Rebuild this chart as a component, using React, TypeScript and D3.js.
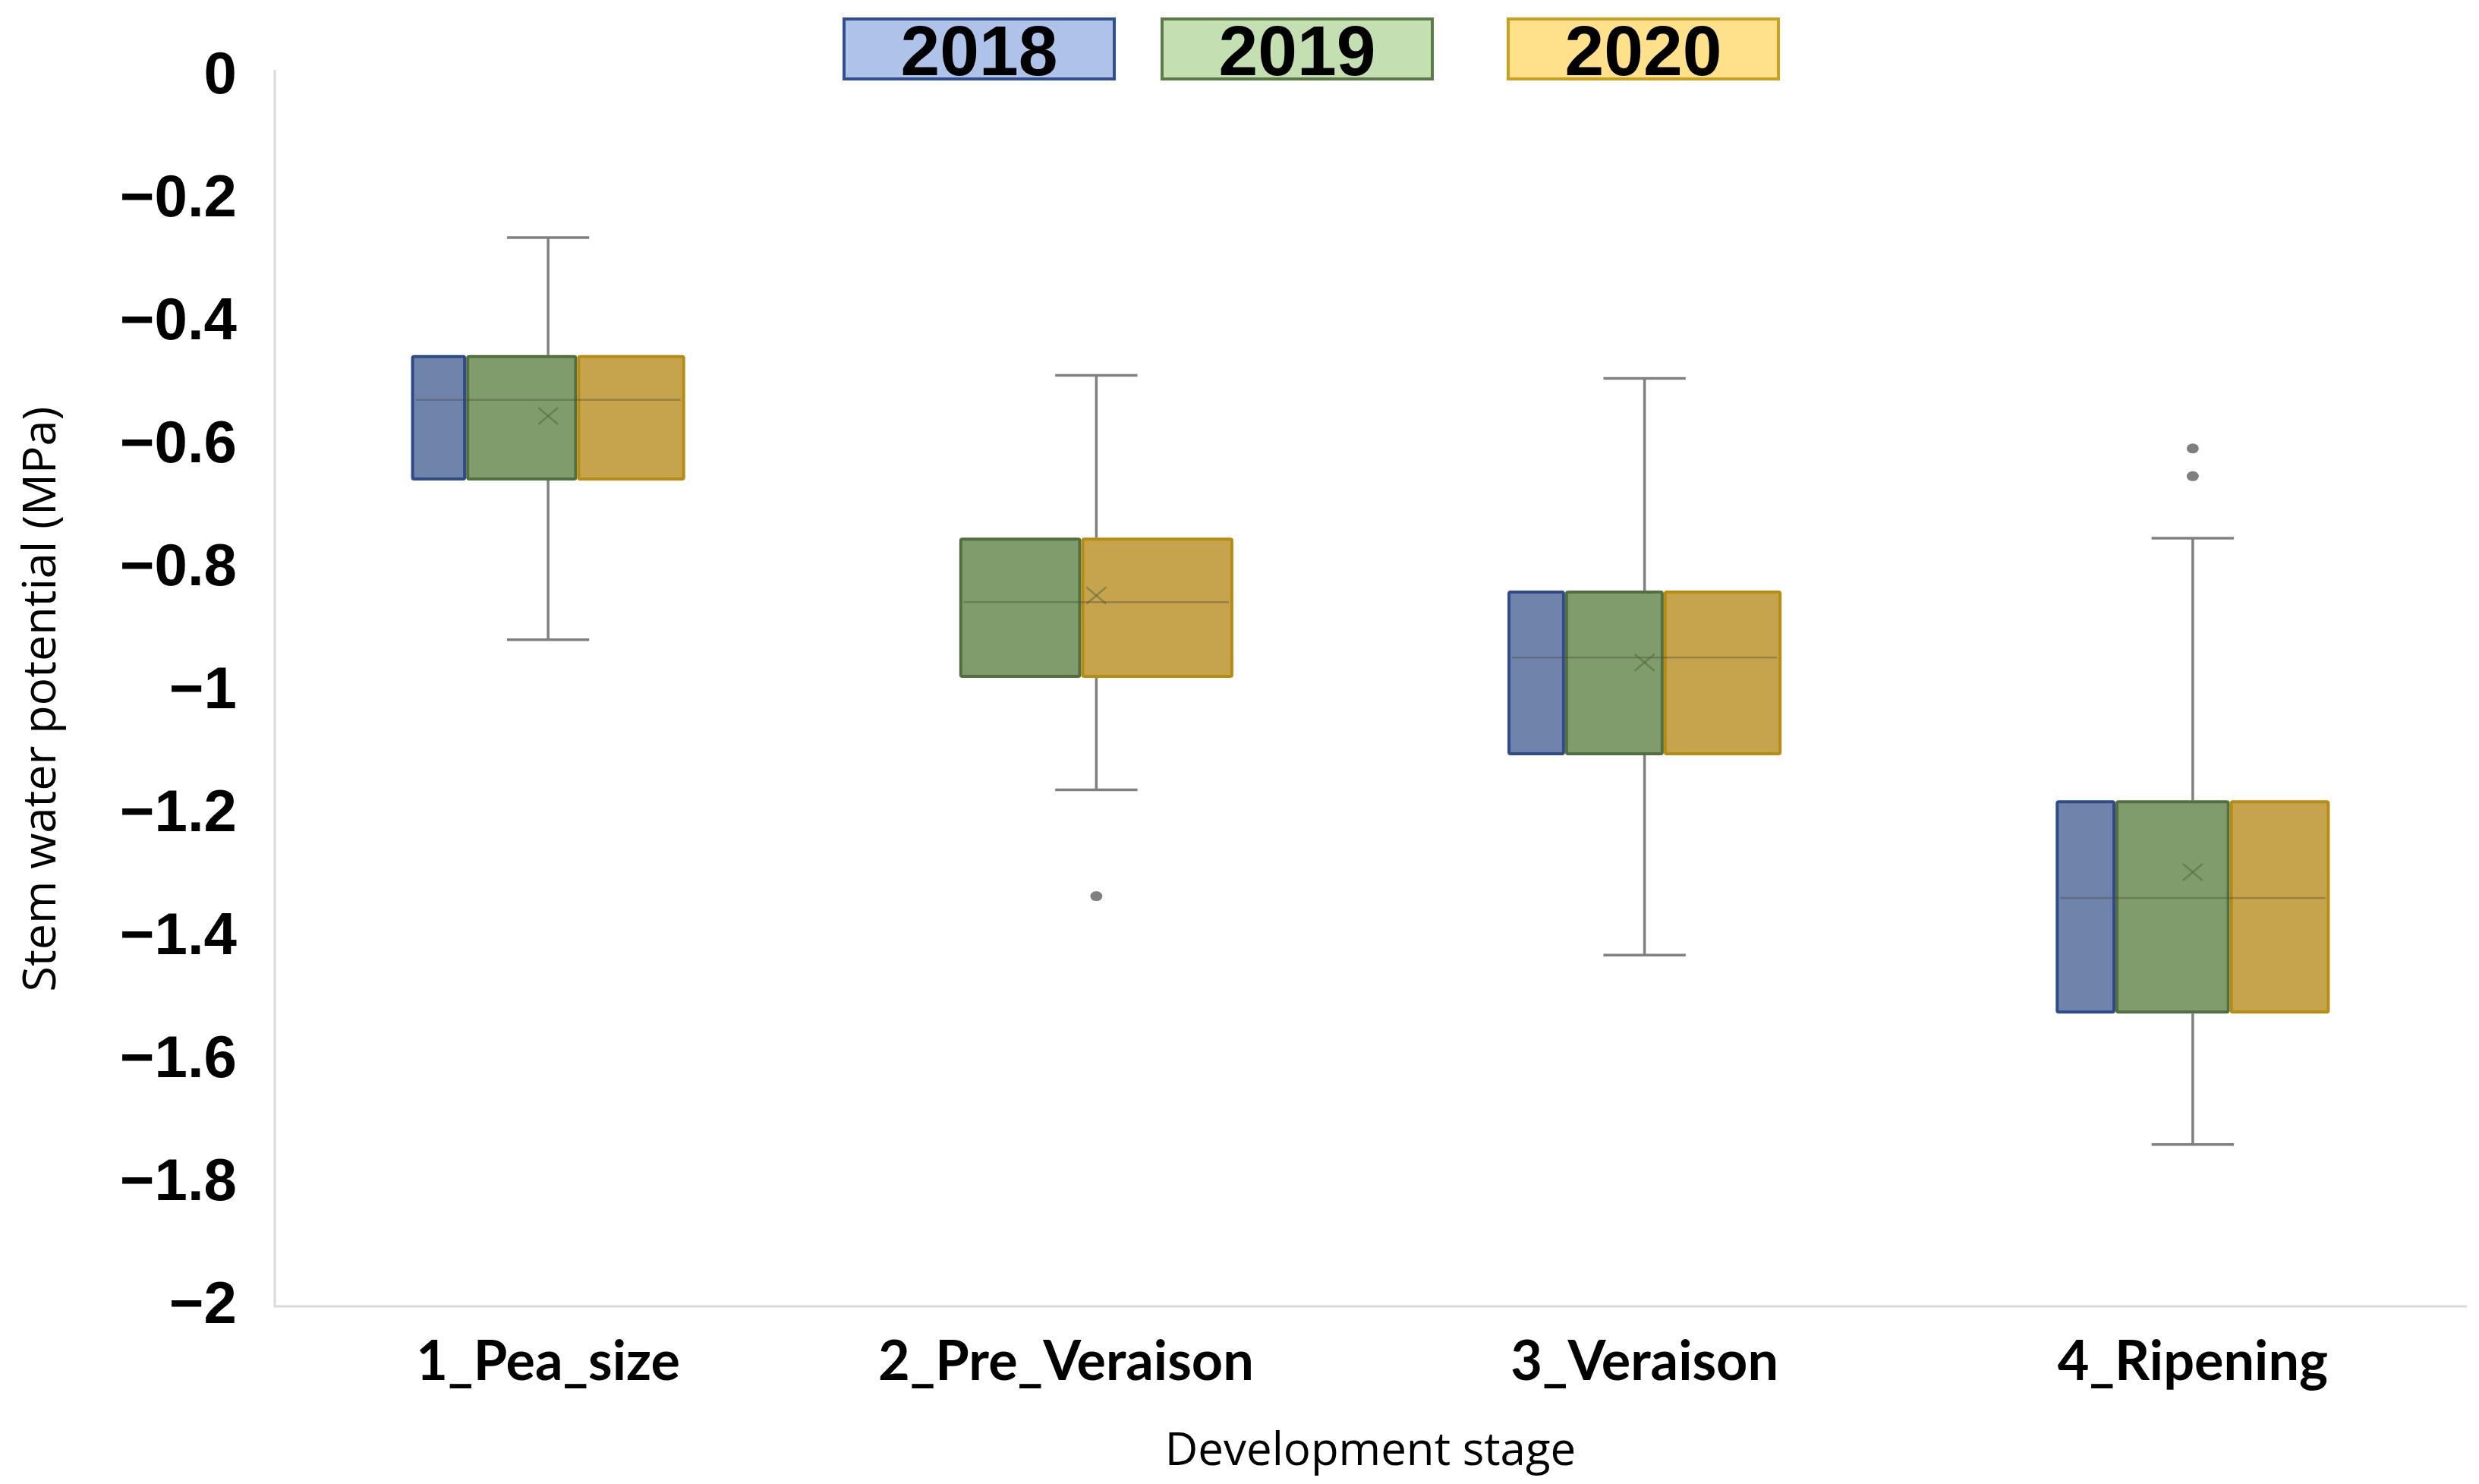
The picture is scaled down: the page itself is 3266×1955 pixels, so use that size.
import React from "react";
import * as d3 from "d3";

// ---- data ----
const stages = ["1_Pea_size", "2_Pre_Veraison", "3_Veraison", "4_Ripening"];
const years = ["2018", "2019", "2020"];
const whiskerHigh = [-0.263, -0.487, -0.492, -0.752];
const q3 = [-0.454, -0.751, -0.837, -1.178];
const median = [-0.527, -0.856, -0.946, -1.337];
const mean = [-0.553, -0.845, -0.954, -1.295];
const q1 = [-0.658, -0.979, -1.105, -1.525];
const whiskerLow = [-0.917, -1.161, -1.43, -1.738];
const outlierStage = ["2_Pre_Veraison", "4_Ripening", "4_Ripening"];
const outlierValue = [-1.334, -0.606, -0.651];
// share of each year within each stage's box
const share2018 = [0.201, 0, 0.21, 0.218];
const share2019 = [0.405, 0.445, 0.36, 0.417];
const share2020 = [0.394, 0.555, 0.43, 0.365];
const yTicks = [0, -0.2, -0.4, -0.6, -0.8, -1, -1.2, -1.4, -1.6, -1.8, -2];

// ---- styles ----
const boxFill = ["#6f83ab", "#809c6c", "#c5a44d"];
const boxStroke = ["#2f4c88", "#52703f", "#b68c12"];
const legendFill = ["#aec3e7", "#c4dfb2", "#ffe08b"];
const legendStroke = ["#2f4f8f", "#5b7b47", "#c9a020"];
const legendX = [1112, 1531, 1987];
const labelShift = [0, -40, 0, 0];

export default function App() {
  const W = 3266;
  const H = 1955;
  const x = d3.scaleBand<string>().domain(stages).range([361, 3250]).padding(0);
  const y = d3.scaleLinear().domain([0, -2]).range([100, 1720]);
  const bw = x.bandwidth();
  const fmt = d3.format("~g");
  const shares = [share2018, share2019, share2020];

  return (
    <svg
      width={W}
      height={H}
      viewBox={`0 0 ${W} ${H}`}
      style={{ position: "absolute", left: 0, top: 0, background: "#fff" }}
    >
      <rect x={0} y={0} width={W} height={H} fill="#fff" />
      {/* axes */}
      <line x1={362} x2={362} y1={92} y2={1722} stroke="#d9d9d9" strokeWidth={3} />
      <line x1={361} x2={3250} y1={1721} y2={1721} stroke="#d9d9d9" strokeWidth={3} />

      {/* y tick labels */}
      {yTicks.map((t) => (
        <text
          key={t}
          x={312}
          y={y(t)}
          dy="0.29em"
          textAnchor="end"
          fontFamily="'Liberation Sans', Arial, sans-serif"
          fontWeight="bold"
          fontSize={78}
          fill="#000"
        >
          {fmt(t)}
        </text>
      ))}

      {/* boxes */}
      {stages.map((s, i) => {
        const c = (x(s) as number) + bw / 2;
        const boxW = bw * 0.5;
        const left = c - boxW / 2;
        const capHalf = bw * 0.075;
        let acc = left;
        const segs = years.map((yr, k) => {
          const w = shares[k][i] * boxW;
          const x0 = acc;
          acc += w;
          return { k, x0, w };
        });
        return (
          <g key={s}>
            {/* whiskers */}
            <line x1={c} x2={c} y1={y(whiskerHigh[i])} y2={y(q3[i])} stroke="#808080" strokeWidth={3.5} />
            <line x1={c} x2={c} y1={y(q1[i])} y2={y(whiskerLow[i])} stroke="#808080" strokeWidth={3.5} />
            <line x1={c - capHalf} x2={c + capHalf} y1={y(whiskerHigh[i])} y2={y(whiskerHigh[i])} stroke="#808080" strokeWidth={3.5} />
            <line x1={c - capHalf} x2={c + capHalf} y1={y(whiskerLow[i])} y2={y(whiskerLow[i])} stroke="#808080" strokeWidth={3.5} />
            {segs
              .filter((d) => d.w > 0)
              .map((d) => (
                <rect
                  key={d.k}
                  x={d.x0 + 2}
                  y={y(q3[i]) + 2}
                  width={d.w - 4}
                  height={y(q1[i]) - y(q3[i]) - 4}
                  fill={boxFill[d.k]}
                  stroke={boxStroke[d.k]}
                  strokeWidth={4}
                  rx={2}
                />
              ))}
            {/* median */}
            <line
              x1={left + 6}
              x2={left + boxW - 6}
              y1={y(median[i])}
              y2={y(median[i])}
              stroke="rgba(70,70,50,0.35)"
              strokeWidth={2.5}
            />
            {/* mean X */}
            <g stroke="rgba(70,95,60,0.45)" strokeWidth={2.5}>
              <line x1={c - 13} x2={c + 13} y1={y(mean[i]) - 11} y2={y(mean[i]) + 11} />
              <line x1={c - 13} x2={c + 13} y1={y(mean[i]) + 11} y2={y(mean[i]) - 11} />
            </g>
          </g>
        );
      })}

      {/* outliers */}
      {outlierValue.map((v, j) => (
        <ellipse
          key={j}
          cx={(x(outlierStage[j]) as number) + bw / 2}
          cy={y(v)}
          rx={8}
          ry={6.5}
          fill="#7f7f7f"
        />
      ))}

      {/* x tick labels */}
      {stages.map((s, i) => (
        <text
          key={s}
          x={(x(s) as number) + bw / 2 + labelShift[i]}
          y={1818}
          textAnchor="middle"
          fontFamily="Lato, sans-serif"
          fontWeight="bold"
          fontSize={72}
          fill="#000"
        >
          {s}
        </text>
      ))}

      {/* axis titles */}
      <text
        x={(361 + 3250) / 2}
        y={1930}
        textAnchor="middle"
        fontFamily="'Open Sans', sans-serif"
        fontSize={60}
        fill="#000"
      >
        Development stage
      </text>
      <text
        transform={`translate(52, ${921}) rotate(-90)`}
        textAnchor="middle"
        dy="0.35em"
        fontFamily="'Open Sans', sans-serif"
        fontSize={61}
        fill="#000"
      >
        Stem water potential (MPa)
      </text>

      {/* legend */}
      {years.map((yr, k) => (
        <g key={yr}>
          <rect
            x={legendX[k]}
            y={25}
            width={356}
            height={79}
            fill={legendFill[k]}
            stroke={legendStroke[k]}
            strokeWidth={4}
          />
          <text
            x={legendX[k] + 178}
            y={66}
            dy="0.36em"
            textAnchor="middle"
            fontFamily="'Liberation Sans', Arial, sans-serif"
            fontWeight="bold"
            fontSize={93}
            fill="#000"
          >
            {yr}
          </text>
        </g>
      ))}
    </svg>
  );
}
